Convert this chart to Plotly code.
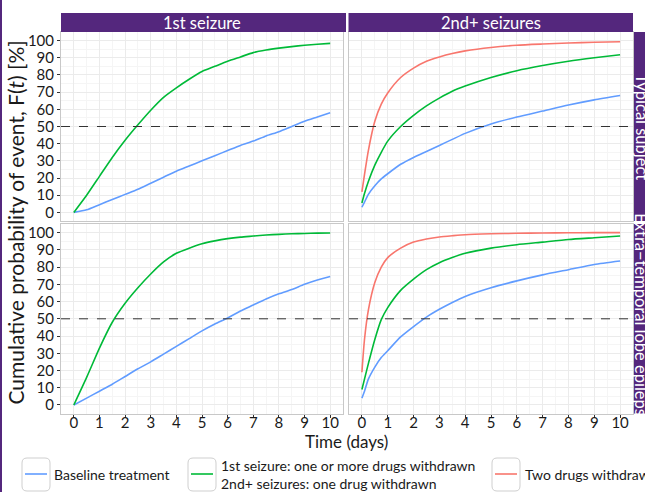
import plotly.graph_objects as go

W, H = 645, 492
def px(x): return x / W
def py(y): return 1 - y / H

FONT = "Lato, Liberation Sans, sans-serif"
PURPLE = "#54277d"
BLUE, GREEN, RED = "#619CFF", "#00BA38", "#F8766D"

# ---------------- data ----------------
t_first = [0, 0.5, 1, 1.5, 2, 2.5, 3, 3.5, 4, 4.5, 5, 5.5, 6, 6.5, 7, 7.5, 8, 8.5, 9, 9.5, 10]
t_second = [0, 0.1, 0.25, 0.5, 0.75, 1, 1.5, 2, 2.5, 3, 3.5, 4, 5, 6, 7, 8, 9, 10]

# Typical subject, 1st seizure
typ_first_base = [0, 1.5, 4.5, 7.5, 10.5, 13.5, 17, 20.5, 24, 27, 30, 33, 36, 39, 41.5, 44.5, 47, 50, 53, 55.5, 58]
typ_first_wd = [0, 10, 21, 32, 42, 51, 59.5, 67, 72.5, 77.5, 82, 85, 88, 90.5, 93, 94.5, 95.6, 96.5, 97.3, 97.9, 98.4]
# Typical subject, 2nd+ seizures
typ_second_base = [3, 6, 10.5, 15.5, 19.5, 22.5, 28, 32, 35.5, 39, 42.5, 46, 51.5, 55.5, 59, 62.5, 65.5, 68]
typ_second_one = [5.5, 11, 18, 27.5, 35, 41.5, 50, 56.5, 62, 66.5, 70.5, 73.5, 78.5, 82.5, 85.5, 88, 90, 91.8]
typ_second_two = [12, 22, 36, 53, 63, 69.5, 78.5, 84, 88, 90.5, 92.5, 94, 96, 97.3, 98, 98.6, 99, 99.3]

# Extra-temporal lobe epilepsy, 1st seizure
ext_first_base = [0, 4, 8, 12, 16.5, 21, 25, 29.5, 34, 38.5, 43, 47, 50.5, 54.5, 58, 61.5, 64.5, 67, 70, 72.5, 74.5]
ext_first_wd = [0, 16, 33, 48, 59, 68, 76, 83, 88, 91, 93.5, 95.2, 96.5, 97.4, 98, 98.6, 99, 99.3, 99.5, 99.7, 99.8]
# Extra-temporal lobe epilepsy, 2nd+ seizures
ext_second_base = [4, 8, 15, 22, 27.5, 31.5, 39.5, 45.5, 51, 55.5, 59.5, 63, 68, 72, 75.5, 78.5, 81.5, 83.5]
ext_second_one = [9, 15, 24, 38, 49.5, 56.5, 66.5, 73, 78.5, 82.5, 85.5, 88, 91, 93, 94.5, 96, 97, 98]
ext_second_two = [19, 38, 55, 71, 80, 85.5, 91, 94.5, 96.3, 97.5, 98.2, 98.8, 99.3, 99.6, 99.8, 99.9, 100, 100]

col_labels = ["1st seizure", "2nd+ seizures"]
row_labels = ["Typical subject", "Extra\u2212temporal lobe epilepsy"]
x_ticks = list(range(0, 11))
y_ticks = list(range(0, 101, 10))
legend_labels = ["Baseline treatment",
                 "1st seizure: one or more drugs withdrawn<br>2nd+ seizures: one drug withdrawn",
                 "Two drugs withdrawn"]
threshold = 50

# ---------------- layout geometry (pixels) ----------------
col_px = [(61, 343), (349, 633)]
row_px = [(32, 221), (224, 413.6)]

fig = go.Figure()

panels = [
    (0, 0, t_first, [(typ_first_base, BLUE), (typ_first_wd, GREEN)]),
    (0, 1, t_second, [(typ_second_base, BLUE), (typ_second_one, GREEN), (typ_second_two, RED)]),
    (1, 0, t_first, [(ext_first_base, BLUE), (ext_first_wd, GREEN)]),
    (1, 1, t_second, [(ext_second_base, BLUE), (ext_second_one, GREEN), (ext_second_two, RED)]),
]

layout = dict(
    width=W, height=H, autosize=False,
    margin=dict(l=0, r=0, t=0, b=0),
    paper_bgcolor="white", plot_bgcolor="white",
    showlegend=False,
    font=dict(family=FONT, size=14, color="#1a1a1a"),
)
shapes = []
annotations = []

for i, (r, c, tt, series) in enumerate(panels):
    k = i + 1
    xa = "x" if k == 1 else f"x{k}"
    ya = "y" if k == 1 else f"y{k}"
    for vals, col in series:
        fig.add_trace(go.Scatter(x=tt, y=vals, mode="lines", xaxis=xa, yaxis=ya,
                                 line=dict(color=col, width=1.6, shape="spline", smoothing=0.6),
                                 hoverinfo="skip"))
    x0, x1 = col_px[c]
    y0, y1 = row_px[r]
    layout["xaxis" if k == 1 else f"xaxis{k}"] = dict(
        domain=[px(x0), px(x1)], range=[-0.5, 10.5], anchor=ya,
        tickvals=x_ticks, showticklabels=(r == 1),
        ticks="outside" if r == 1 else "", ticklen=3, tickcolor="#333", tickwidth=1,
        ticklabelstandoff=-8,
        showgrid=True, gridcolor="#ebebeb", gridwidth=1,
        minor=dict(dtick=0.5, tick0=0, showgrid=True, gridcolor="#f5f5f5", gridwidth=1, ticks=""),
        showline=True, linecolor="#c8c8c8", linewidth=1, mirror=True,
        zeroline=False, tickfont=dict(size=15, color="#1a1a1a"), fixedrange=True,
    )
    layout["yaxis" if k == 1 else f"yaxis{k}"] = dict(
        domain=[py(y1), py(y0)], range=[-5, 105], anchor=xa,
        tickvals=y_ticks, showticklabels=(c == 0),
        ticks="outside" if c == 0 else "", ticklen=3, tickcolor="#333", tickwidth=1,
        showgrid=True, gridcolor="#ebebeb", gridwidth=1,
        minor=dict(dtick=5, tick0=0, showgrid=True, gridcolor="#f5f5f5", gridwidth=1, ticks=""),
        showline=True, linecolor="#c8c8c8", linewidth=1, mirror=True,
        zeroline=False, tickfont=dict(size=15, color="#1a1a1a"), fixedrange=True,
    )
    shapes.append(dict(type="line", xref=f"{xa} domain", yref=ya, x0=0, x1=1,
                       y0=threshold, y1=threshold,
                       line=dict(color="#333", width=1, dash="dash")))

# column strips
for c, lab in enumerate(col_labels):
    x0, x1 = col_px[c]
    x0 = x0 if c == 0 else x0 - 0.5
    shapes.append(dict(type="rect", xref="paper", yref="paper", x0=px(x0), x1=px(x1 + (3 if c == 0 else 0)),
                       y0=py(32), y1=py(13), fillcolor=PURPLE, line=dict(width=0), layer="above"))
    annotations.append(dict(text=lab, xref="paper", yref="paper", x=px((col_px[c][0] + col_px[c][1]) / 2),
                            y=py(22.5), showarrow=False, font=dict(size=16.5, color="white"),
                            xanchor="center", yanchor="middle"))
# row strips
for r, lab in enumerate(row_labels):
    y0, y1 = row_px[r]
    shapes.append(dict(type="rect", xref="paper", yref="paper", x0=px(634), x1=px(660),
                       y0=py(y1), y1=py(y0), fillcolor=PURPLE, line=dict(width=0), layer="above"))
    annotations.append(dict(text=lab, xref="paper", yref="paper", x=px(641.5), y=py((y0 + y1) / 2),
                            showarrow=False, textangle=90, font=dict(size=16.5, color="white"),
                            xanchor="center", yanchor="middle"))

# left purple border
shapes.append(dict(type="rect", xref="paper", yref="paper", x0=0, x1=px(2), y0=0, y1=1,
                   fillcolor=PURPLE, line=dict(width=0)))

# axis titles
annotations.append(dict(text="Time (days)", xref="paper", yref="paper", x=px(346), y=py(441),
                        showarrow=False, font=dict(size=17), xanchor="center", yanchor="middle"))
annotations.append(dict(text="Cumulative probability of event, F(<i>t</i>) [%]", xref="paper", yref="paper",
                        x=px(15), y=py(222.5), showarrow=False, textangle=-90,
                        font=dict(size=21), xanchor="center", yanchor="middle"))

# legend (keys drawn manually)
leg_keys = [(22, 50, BLUE, 52), (188, 216, GREEN, 219), (492, 520, RED, 523)]
for (kx0, kx1, col, tx), lab in zip(leg_keys, legend_labels):
    ky0, ky1 = 458, 491
    rr = 5
    path = (f"M {px(kx0+rr)},{py(ky0)} L {px(kx1-rr)},{py(ky0)} "
            f"Q {px(kx1)},{py(ky0)} {px(kx1)},{py(ky0+rr)} L {px(kx1)},{py(ky1-rr)} "
            f"Q {px(kx1)},{py(ky1)} {px(kx1-rr)},{py(ky1)} L {px(kx0+rr)},{py(ky1)} "
            f"Q {px(kx0)},{py(ky1)} {px(kx0)},{py(ky1-rr)} L {px(kx0)},{py(ky0+rr)} "
            f"Q {px(kx0)},{py(ky0)} {px(kx0+rr)},{py(ky0)} Z")
    shapes.append(dict(type="path", xref="paper", yref="paper", path=path,
                       line=dict(color="#cfcfcf", width=1), fillcolor="white"))
    shapes.append(dict(type="line", xref="paper", yref="paper", x0=px(kx0 + 3), x1=px(kx1 - 3),
                       y0=py(474), y1=py(474), line=dict(color=col, width=1.6)))
    annotations.append(dict(text=lab, xref="paper", yref="paper", x=px(tx), y=py(474),
                            showarrow=False, xanchor="left", yanchor="middle", align="left",
                            font=dict(size=14)))

layout["shapes"] = shapes
layout["annotations"] = annotations
fig.update_layout(**layout)
fig.write_html("out.html", config={"displayModeBar": False, "staticPlot": True},
               post_script="document.body.style.margin='0';document.body.style.overflow='hidden';")
